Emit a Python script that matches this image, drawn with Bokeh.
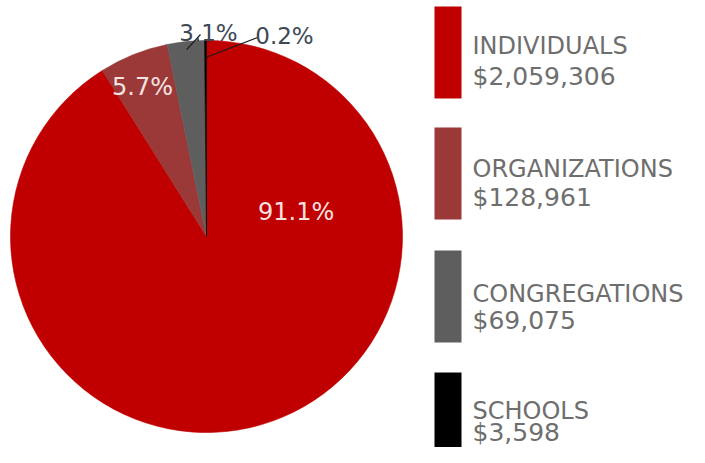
import numpy as np
from bokeh.plotting import figure
from bokeh.models import ColumnDataSource, Range1d
from bokeh.core.properties import value
from bokeh.embed import file_html
from bokeh.resources import INLINE

# ---- data ----
categories = ["INDIVIDUALS", "ORGANIZATIONS", "CONGREGATIONS", "SCHOOLS"]
amounts = [2059306, 128961, 69075, 3598]
colors = ["#C00000", "#9B3838", "#5E5E5E", "#000000"]

# ---- layout (picture coords: x right, y down; converted to y up) ----
FW, FH = 689, 447
def Y(v):
    return FH - np.asarray(v, dtype=float)

cx, cy, R = 206, 236, 196
legend_rect_top = [6, 127, 250, 372]
legend_title_base = [45, 168, 293, 410]
legend_value_base = [76, 197, 320, 432]

total = sum(amounts)
frac = np.array(amounts) / total
cum = np.concatenate([[0], np.cumsum(frac)])
# clockwise from 12 o'clock
start = np.pi / 2 - cum[1:] * 2 * np.pi
end = np.pi / 2 - cum[:-1] * 2 * np.pi
mid_cw = (cum[:-1] + cum[1:]) / 2 * 2 * np.pi  # clockwise angle from top
pct = [f"{f*100:.1f}%" for f in frac]

p = figure(width=FW, height=FH, x_range=Range1d(0, FW), y_range=Range1d(0, FH),
           output_backend="svg", toolbar_location=None, min_border=0,
           x_axis_type=None, y_axis_type=None)
p.xgrid.visible = False
p.ygrid.visible = False
p.outline_line_color = None
p.background_fill_color = "white"
p.border_fill_color = "white"

src = ColumnDataSource(dict(start=start, end=end, color=colors))
p.wedge(x=cx, y=Y(cy), radius=R, start_angle="start", end_angle="end",
        direction="anticlock", fill_color="color", line_color="color", line_width=0.6,
        source=src)

font = value("DejaVu Sans")

# inside labels
ang0 = np.deg2rad(80)
r0 = 91
p.text(x=[cx + r0 * np.sin(ang0)], y=[Y(cy - r0 * np.cos(ang0) - 9)], text=[pct[0]],
       text_font=font, text_font_size="24px", text_color="#F6E2E2",
       text_align="center", text_baseline="alphabetic")
r1 = 172
p.text(x=[cx + r1 * np.sin(mid_cw[1])], y=[Y(cy - r1 * np.cos(mid_cw[1]) + 10)], text=[pct[1]],
       text_font=font, text_font_size="24px", text_color="#F6E2E2",
       text_align="center", text_baseline="alphabetic")

# outside labels with leader lines
lab_pos = [(208, 32), (284, 35)]  # label centre-x, baseline
line_start = [(200, 34), (257, 37)]
r_end = [188, 179]
for k, idx in enumerate([2, 3]):
    ex = cx + r_end[k] * np.sin(mid_cw[idx])
    ey = cy - r_end[k] * np.cos(mid_cw[idx])
    p.segment(x0=[line_start[k][0]], y0=[Y(line_start[k][1])], x1=[ex], y1=[Y(ey)],
              line_color="#1a1a1a", line_width=1.2)
    p.text(x=[lab_pos[k][0]], y=[Y(lab_pos[k][1])], text=[pct[idx]],
           text_font=font, text_font_size="23px", text_color="#3E4854",
           text_align="center", text_baseline="alphabetic")

# legend
n = len(categories)
rt = np.array(legend_rect_top)
p.quad(left=434, right=461, top=Y(rt), bottom=Y(np.minimum(rt + 92, FH)), fill_color=colors,
       line_color=None)
p.text(x=[472] * n, y=Y(legend_title_base), text=categories, text_font=font,
       text_font_size="24px", text_color="#6E6E6E", text_baseline="alphabetic")
p.text(x=[472] * n, y=Y(legend_value_base), text=[f"${a:,}" for a in amounts], text_font=font,
       text_font_size="25px", text_color="#6E6E6E", text_baseline="alphabetic")

open("out.html", "w").write(file_html(p, INLINE))
